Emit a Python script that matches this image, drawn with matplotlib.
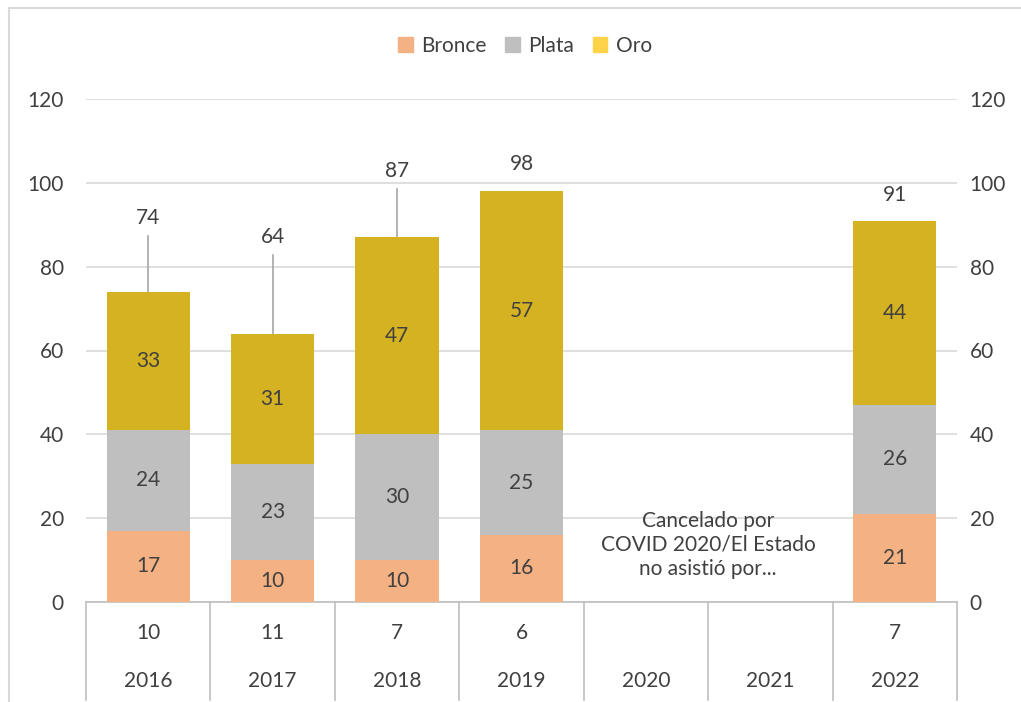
import matplotlib.pyplot as plt
from matplotlib.patches import Patch
from matplotlib.lines import Line2D
import numpy as np

years = ['2016', '2017', '2018', '2019', '2020', '2021', '2022']
counts = ['10', '11', '7', '6', '', '', '7']
bronce = [17, 10, 10, 16, 0, 0, 21]
plata = [24, 23, 30, 25, 0, 0, 26]
oro = [33, 31, 47, 57, 0, 0, 44]
totals = [74, 64, 87, 98, None, None, 91]
# where Excel left the moved total labels
total_label_y = [91.6, 87.1, 102.9, 104.5, None, None, 97.0]

C_BRONCE = '#F4B183'
C_PLATA = '#BFBFBF'
C_ORO = '#D5B222'
C_ORO_LEG = '#FFD347'
TXT = '#404040'
GRID = '#D9D9D9'
FS = 15

plt.rcParams['font.family'] = ['Lato', 'DejaVu Sans']

fig = plt.figure(figsize=(10.21, 7.02), dpi=100)
ax = fig.add_axes([86 / 1021, 100 / 702, 871 / 1021, 503 / 702])

x = np.arange(len(years))
w = 0.67
b = np.array(bronce)
p = np.array(plata)
o = np.array(oro)
ax.bar(x, b, w, color=C_BRONCE, zorder=3)
ax.bar(x, p, w, bottom=b, color=C_PLATA, zorder=3)
ax.bar(x, o, w, bottom=b + p, color=C_ORO, zorder=3)

for i in range(len(years)):
    for bottom, val in ((0, b[i]), (b[i], p[i]), (b[i] + p[i], o[i])):
        if val > 0:
            ax.text(x[i], bottom + val / 2, str(val), ha='center', va='center',
                    fontsize=FS, color=TXT, zorder=4)
    if totals[i] is not None:
        ly = total_label_y[i]
        ax.text(x[i], ly, str(totals[i]), ha='center', va='center',
                fontsize=FS, color=TXT, zorder=4)
        if ly - 4.3 > totals[i] + 3:
            ax.plot([x[i], x[i]], [totals[i], ly - 4.3], color='#A6A6A6',
                    lw=1.2, zorder=2)

ax.text(4.5, 13.6, 'Cancelado por\nCOVID 2020/El Estado\nno asistió por...',
        ha='center', va='center', fontsize=FS, color=TXT, linespacing=1.25,
        zorder=4)

ax.set_xlim(-0.5, 6.5)
ax.set_ylim(0, 120)
ax.set_yticks(range(0, 121, 20))
ax.grid(axis='y', color=GRID, lw=1.2, zorder=0)
ax.tick_params(axis='y', length=0, labelsize=FS, labelcolor=TXT, pad=16)
ax.set_xticks([])
for s in ['top', 'right', 'left']:
    ax.spines[s].set_visible(False)
ax.spines['bottom'].set_color(C_PLATA)
ax.spines['bottom'].set_linewidth(1.2)

ax2 = ax.twinx()
ax2.set_ylim(0, 120)
ax2.set_yticks(range(0, 121, 20))
ax2.tick_params(axis='y', length=0, labelsize=FS, labelcolor=TXT, pad=9)
for s in ax2.spines.values():
    s.set_visible(False)

# two-level category axis
tr = ax.get_xaxis_transform()
for xb in np.arange(-0.5, 7, 1.0):
    ax.add_line(Line2D([xb, xb], [0, -0.195], transform=tr, color=C_PLATA,
                       lw=1.2, clip_on=False))
for i in range(len(years)):
    ax.text(x[i], -0.062, counts[i], transform=tr, ha='center', va='center',
            fontsize=FS, color=TXT)
    ax.text(x[i], -0.157, years[i], transform=tr, ha='center', va='center',
            fontsize=FS, color=TXT)

handles = [Patch(color=C_BRONCE), Patch(color=C_PLATA), Patch(color=C_ORO_LEG)]
fig.legend(handles, ['Bronce', 'Plata', 'Oro'], loc='center',
           bbox_to_anchor=(525 / 1021, 1 - 46 / 702), ncol=3, frameon=False,
           fontsize=FS, labelcolor=TXT, handlelength=0.7, handleheight=0.7,
           handletextpad=0.4, columnspacing=0.9)

# chart area border (only top and left visible in crop)
fig.add_artist(Line2D([9 / 1021, 1.0], [1 - 8 / 702] * 2, color=GRID, lw=1.5))
fig.add_artist(Line2D([9 / 1021] * 2, [0, 1 - 8 / 702], color=GRID, lw=1.5))

fig.savefig('out.png', dpi=100)
